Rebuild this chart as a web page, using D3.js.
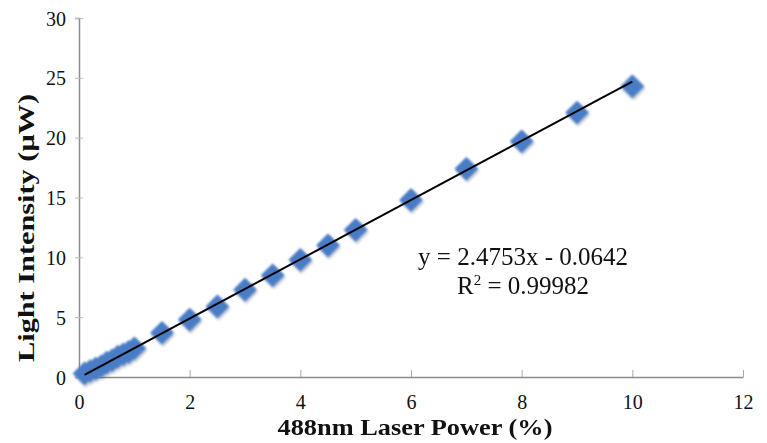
<!DOCTYPE html>
<html>
<head>
<meta charset="utf-8">
<script src="https://cdn.jsdelivr.net/npm/d3@7"></script>
<style>
  body { margin: 0; background: #fff; }
  svg { display: block; }
  text { font-family: "Liberation Serif", "Times New Roman", serif; fill: #111; }
</style>
</head>
<body>
<svg id="bg" width="767" height="443"></svg>
<script>
// laser power (%) and measured light intensity (uW)
var potencia = [0.1, 0.2, 0.3, 0.4, 0.5, 0.6, 0.7, 0.8, 0.9, 1, 1.5, 2, 2.5, 3, 3.5, 4, 4.5, 5, 6, 7, 8, 9, 10];
var intensidad = [0.3, 0.5, 0.7, 0.9, 1.2, 1.4, 1.7, 1.9, 2.1, 2.4, 3.7, 4.8, 5.9, 7.3, 8.5, 9.8, 11.0, 12.3, 14.8, 17.4, 19.7, 22.1, 24.3];

var xTicks = [0, 2, 4, 6, 8, 10, 12];
var yTicks = [0, 5, 10, 15, 20, 25, 30];

// linear fit shown on the chart
var pendiente = 2.4753;
var intercepto = -0.0642;
var ecuacion = 'y = 2.4753x - 0.0642';
var r2 = '0.99982';

var xScale = d3.scaleLinear()
.domain([0,12])
.range([79,743]);

var heightScale = d3.scaleLinear()
.domain([0,30])
.range([377,18]);

var svg = d3.select('#bg');

var defs = svg.append('defs');
var filtro = defs.append('filter')
  .attr('id', 'sombra')
  .attr('x', '-50%').attr('y', '-50%')
  .attr('width', '200%').attr('height', '200%');
filtro.append('feGaussianBlur').attr('in', 'SourceAlpha').attr('stdDeviation', 1.8).attr('result', 'b');
filtro.append('feOffset').attr('in', 'b').attr('dx', 1).attr('dy', 2).attr('result', 'o');
filtro.append('feComponentTransfer').attr('in', 'o').attr('result', 's')
  .append('feFuncA').attr('type', 'linear').attr('slope', 0.3);
filtro.append('feGaussianBlur').attr('in', 'SourceGraphic').attr('stdDeviation', 1).attr('result', 'g');
var merge = filtro.append('feMerge');
merge.append('feMergeNode').attr('in', 's');
merge.append('feMergeNode').attr('in', 'g');

// y axis
var ejeY = svg.append('g')
  .attr('transform', 'translate(79,0)')
  .call(d3.axisLeft(heightScale).tickValues(yTicks).tickSize(4).tickPadding(9));
ejeY.select('.domain').attr('stroke', '#8c8c8c').attr('stroke-width', 1.5);
ejeY.selectAll('.tick line').attr('stroke', '#bbb').attr('x2', 4).attr('x1', -4);
ejeY.selectAll('.tick text').attr('font-size', '20px').attr('font-family', '"Liberation Serif", serif').attr('fill', '#111').attr('dy', '0.35em');

// x axis (ticks inside)
var ejeX = svg.append('g')
  .attr('transform', 'translate(0,377)')
  .call(d3.axisBottom(xScale).tickValues(xTicks).tickSizeInner(-7).tickSizeOuter(0).tickPadding(18));
ejeX.select('.domain').attr('stroke', '#8c8c8c').attr('stroke-width', 1.5);
ejeX.selectAll('.tick line').attr('stroke', '#aaa');
ejeX.selectAll('.tick text').attr('font-size', '20px').attr('font-family', '"Liberation Serif", serif').attr('fill', '#111');

var datos = potencia.map((p, i) => ({x: p, y: intensidad[i]}));

// puntos
svg.append('g')
  .attr('filter', 'url(#sombra)')
  .selectAll('.punto')
  .data(datos)
  .join('path')
  .attr('class', 'punto')
  .attr('d', d3.symbol().type(d3.symbolSquare).size(280))
  .attr('fill', '#4a7cc6')
  .attr('transform', d => 'translate(' + xScale(d.x) + ',' + heightScale(d.y) + ') rotate(45)');

// linea de tendencia
var xmin = d3.min(potencia), xmax = d3.max(potencia);
svg.append('path')
  .datum([xmin, xmax])
  .attr('fill', 'none')
  .attr('stroke', '#000')
  .attr('stroke-width', 2)
  .attr('d', d3.line()
    .x(d => xScale(d))
    .y(d => heightScale(pendiente * d + intercepto)));

// ecuacion
svg.append('text')
  .attr('x', 523).attr('y', 265)
  .attr('text-anchor', 'middle')
  .attr('font-size', '25px')
  .text(ecuacion);

var tR = svg.append('text')
  .attr('x', 523).attr('y', 294)
  .attr('text-anchor', 'middle')
  .attr('font-size', '25px');
tR.append('tspan').text('R');
tR.append('tspan').attr('font-size', '15px').attr('dy', '-9').text('2');
tR.append('tspan').attr('dy', '9').text(' = ' + r2);

// titulos
svg.append('text')
  .attr('x', 415).attr('y', 435)
  .attr('text-anchor', 'middle')
  .attr('font-size', '23px')
  .attr('font-weight', 'bold')
  .attr('textLength', 275)
  .attr('lengthAdjust', 'spacingAndGlyphs')
  .text('488nm Laser Power (%)');

svg.append('text')
  .attr('transform', 'translate(34,228) rotate(-90)')
  .attr('text-anchor', 'middle')
  .attr('font-size', '24px')
  .attr('font-weight', 'bold')
  .attr('textLength', 268)
  .attr('lengthAdjust', 'spacingAndGlyphs')
  .text('Light Intensity (μW)');
</script>
</body>
</html>
